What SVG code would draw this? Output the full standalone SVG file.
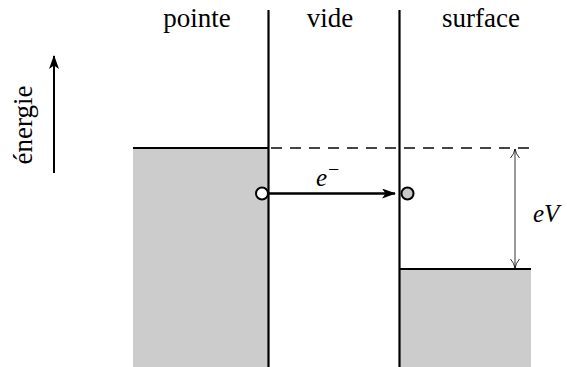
<svg xmlns="http://www.w3.org/2000/svg" width="567" height="367" viewBox="0 0 567 367">
<style>
text{font-family:"Liberation Serif","DejaVu Serif",serif;fill:#000}
.lbl{font-size:27px}
.it{font-style:italic;font-size:25px}
.bar{stroke:#000;stroke-width:2.2;fill:none}
.fill{fill:#cccccc}
</style>
<defs>
<marker id="ah" viewBox="0 0 14 10" refX="13" refY="5" markerWidth="14" markerHeight="10" markerUnits="userSpaceOnUse" orient="auto">
<path d="M0,0 L14,5 L0,10 L3.5,5 Z" fill="#000"/>
</marker>
<marker id="open" viewBox="0 0 10 10" refX="10" refY="5" markerWidth="10" markerHeight="10" markerUnits="userSpaceOnUse" orient="auto-start-reverse">
<path d="M1,0.5 Q5,4 10,5 Q5,6 1,9.5" fill="none" stroke="#000" stroke-width="0.8"/>
</marker>
</defs>
<g id="pointe">
<rect class="fill" x="133" y="148" width="135" height="219"/>
<line class="bar" x1="133" y1="148" x2="268" y2="148"/>
<text class="lbl" x="197" y="27" text-anchor="middle">pointe</text>
</g>
<g id="surface">
<rect class="fill" x="400" y="269" width="131" height="98"/>
<line class="bar" x1="400" y1="269" x2="531" y2="269"/>
<text class="lbl" x="481" y="27" text-anchor="middle">surface</text>
</g>
<g id="vide">
<line class="bar" x1="268.5" y1="10" x2="268.5" y2="367"/>
<line class="bar" x1="399.5" y1="10" x2="399.5" y2="367"/>
<text class="lbl" x="330" y="27" text-anchor="middle">vide</text>
</g>
<g id="energie">
<text class="lbl" transform="translate(32,125) rotate(-90)" text-anchor="middle">énergie</text>
<line x1="54" y1="173" x2="54" y2="56" stroke="#000" stroke-width="2" marker-end="url(#ah)"/>
</g>
<g id="connectors">
<line x1="268" y1="148" x2="531" y2="148" stroke="#444" stroke-width="2" stroke-dasharray="11 8" stroke-dashoffset="-3"/>
<line x1="268" y1="193.5" x2="395" y2="193.5" stroke="#000" stroke-width="2.6" marker-end="url(#ah)"/>
<line x1="515" y1="149" x2="515" y2="268" stroke="#000" stroke-width="0.8" marker-start="url(#open)" marker-end="url(#open)"/>
</g>
<g id="electrons">
<circle cx="262" cy="193.5" r="6" fill="#fff" stroke="#000" stroke-width="2"/>
<circle cx="407.5" cy="193.5" r="6" fill="#c8c8c8" stroke="#000" stroke-width="2"/>
<text class="it" x="316" y="186">e</text>
<text style="font-size:20px" x="328" y="176">−</text>
</g>
<g id="eV">
<text class="it" x="533" y="222">eV</text>
</g>
</svg>
